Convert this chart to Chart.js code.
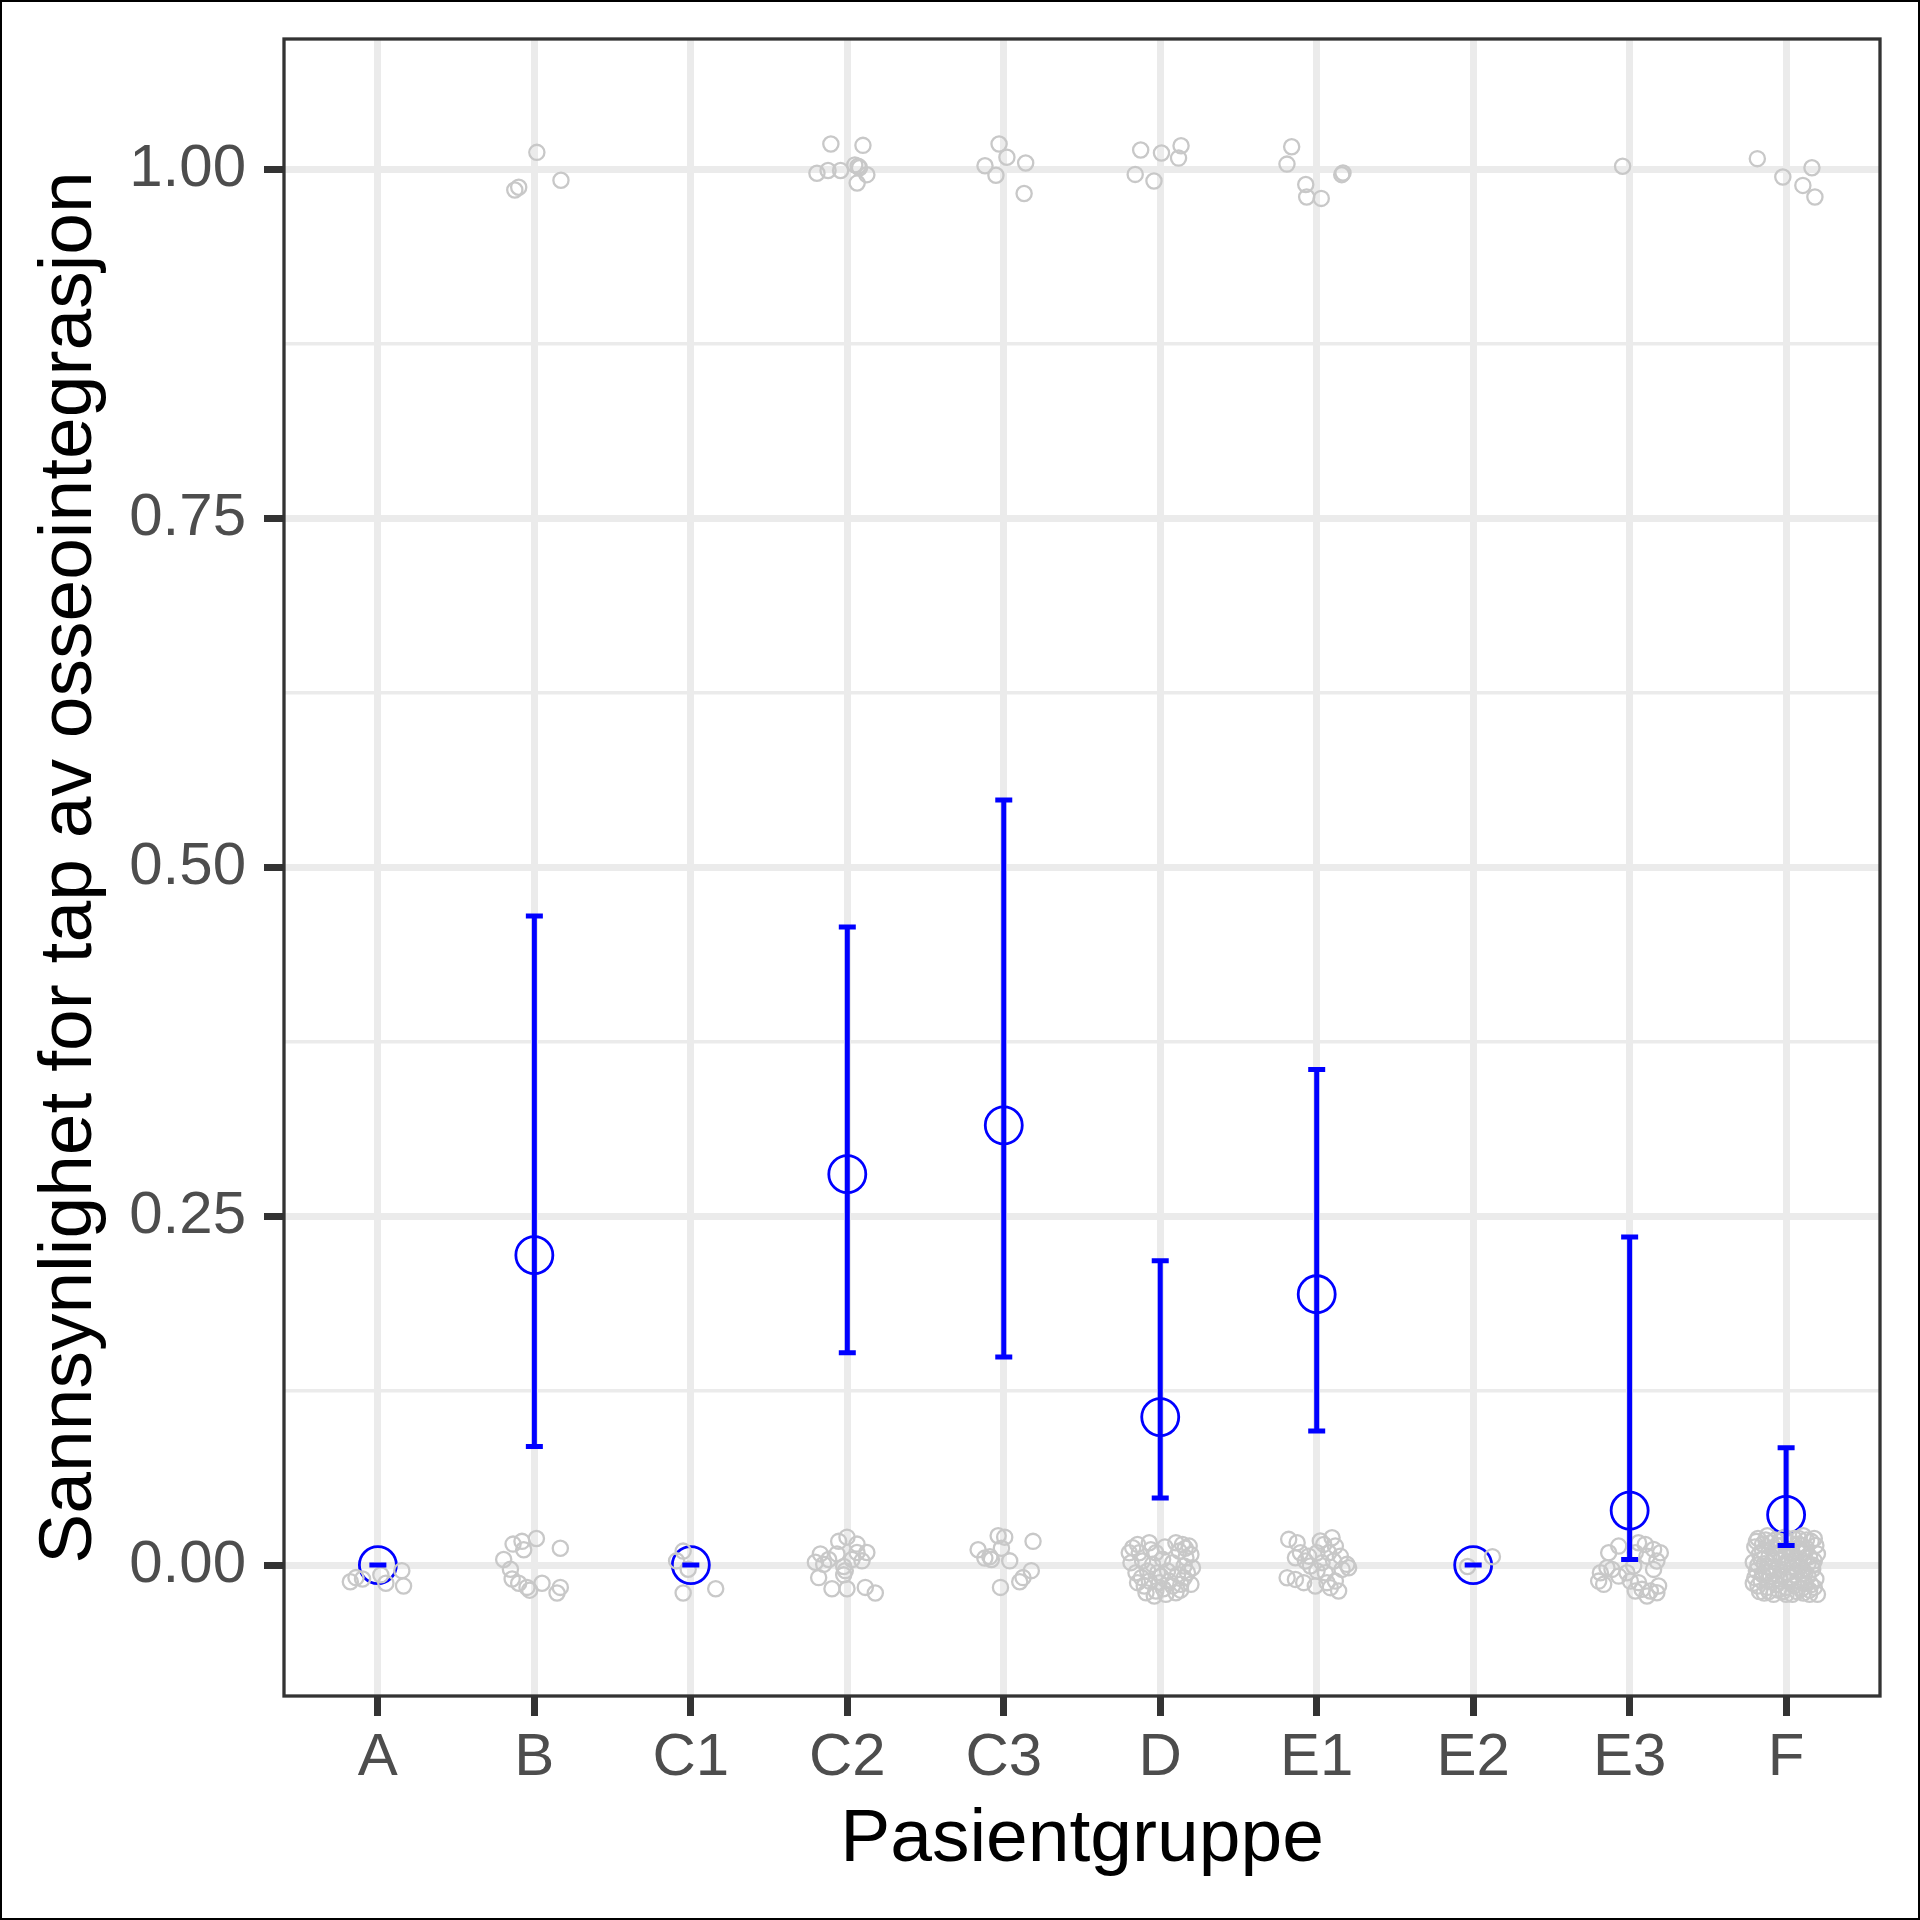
<!DOCTYPE html>
<html><head><meta charset="utf-8">
<script src="https://cdn.jsdelivr.net/npm/chart.js@4/dist/chart.umd.min.js"></script>
<style>html,body{margin:0;padding:0;background:#fff;} canvas{display:block;}</style>
</head><body>
<canvas id="c" width="1920" height="1920"></canvas>
<script>
const categories = ['A','B','C1','C2','C3','D','E1','E2','E3','F'];
const means  = [0, 0.222, 0, 0.280, 0.315, 0.106, 0.194, 0, 0.039, 0.036];
const ciLow  = [0, 0.085, 0, 0.152, 0.149, 0.048, 0.096, 0, 0.004, 0.014];
const ciHigh = [0, 0.465, 0, 0.457, 0.548, 0.218, 0.355, 0, 0.235, 0.084];
const yMajorTicks = [0, 0.25, 0.5, 0.75, 1];
const yMinorTicks = [0.125, 0.375, 0.625, 0.875];
const xTitle = 'Pasientgruppe';
const yTitle = 'Sannsynlighet for tap av osseointegrasjon';

// observations per group: [horizontal jitter (category units), jittered outcome]
const obsA = [[-0.176,-0.012],[-0.14,-0.009],[-0.098,-0.010],[0.051,-0.013],[0.153,-0.004],[0.164,-0.015],[0.019,-0.007]];
const obsB = [[-0.125,0.985],[-0.10,0.987],[0.016,1.012],[0.17,0.992],
  [-0.136,0.015],[-0.079,0.017],[-0.068,0.011],[0.013,0.019],[0.166,0.012],[-0.196,0.004],[-0.153,-0.003],[-0.142,-0.010],
  [-0.1,-0.013],[-0.047,-0.016],[-0.03,-0.018],[0.049,-0.013],[0.145,-0.020],[0.166,-0.016]];
const obsC1 = [[-0.049,0.010],[-0.091,0.003],[-0.017,-0.003],[-0.049,-0.020],[0.159,-0.017]];
const obsC2 = [[-0.105,1.018],[0.10,1.017],[-0.194,0.997],[-0.123,0.999],[-0.043,0.999],[0.048,1.003],[0.069,1.002],[0.125,0.996],[0.063,0.990],[0.078,1.001],
  [-0.002,0.020],[-0.055,0.017],[0.062,0.015],[-0.172,0.008],[-0.204,0.002],[-0.119,0.004],[-0.066,0.008],[0.062,0.009],[0.125,0.009],[0.03,0.004],
  [-0.023,-0.001],[-0.013,-0.004],[0.094,0.003],[-0.183,-0.009],[-0.098,-0.017],[-0.002,-0.017],[0.115,-0.016],[0.179,-0.020],[-0.151,0.0005],[-0.023,-0.007]];
const obsC3 = [[-0.03,1.018],[0.02,1.0085],[0.14,1.0044],[-0.12,1.0024],[-0.05,0.9956],[0.13,0.9825],
  [-0.036,0.021],[0.006,0.020],[-0.015,0.012],[-0.164,0.011],[-0.121,0.005],[-0.079,0.004],[0.038,0.003],[0.187,0.017],
  [0.123,-0.009],[0.102,-0.012],[0.176,-0.004],[-0.021,-0.016],[-0.089,0.006]];
const obsD = [[-0.125,1.0137],[0.008,1.0115],[0.133,1.0167],[0.117,1.0079],[-0.16,0.9962],[-0.04,0.9915],
  [-0.176,0.0124],[-0.145,0.0148],[-0.070,0.016],[-0.198,0.0088],[-0.134,0.0088],[-0.028,0.0088],[0.100,0.016],[0.142,0.0148],
  [0.185,0.0136],[0.121,0.010],[0.196,0.0076],[0.164,0.0052],[-0.187,0.0017],[-0.113,0.0029],[-0.049,0.0005],[0.015,0.0041],
  [0.079,0.0017],[0.153,-0.0007],[0.206,-0.0019],[-0.155,-0.0055],[-0.081,-0.0043],[-0.017,-0.0055],[0.047,-0.0043],[0.111,-0.0067],
  [0.174,-0.0055],[-0.145,-0.0126],[-0.070,-0.0115],[-0.006,-0.0126],[0.057,-0.0115],[0.132,-0.0138],[0.196,-0.0138],[-0.091,-0.0198],
  [-0.028,-0.0186],[0.036,-0.021],[0.100,-0.0198],[0.004,-0.0079],[0.079,-0.015],[-0.102,-0.015],[0.153,-0.0091],[-0.038,-0.0222],
  [-0.06,0.011],[0.03,0.013],[0.16,0.012],[-0.12,-0.009],[0.02,-0.017],[0.13,-0.018]];
const obsE1 = [[-0.16,1.016],[-0.19,1.0036],[-0.07,0.989],[-0.064,0.980],[0.029,0.979],[0.168,0.9972],[0.16,0.996],
  [-0.179,0.0184],[-0.125,0.016],[0.023,0.0172],[0.098,0.0196],[0.045,0.0148],[0.119,0.0136],[-0.104,0.0088],[-0.136,0.0052],
  [-0.051,0.0064],[0.002,0.0088],[0.077,0.0088],[0.151,0.0064],[-0.040,-0.0007],[0.034,0.0017],[0.108,0.0029],[0.193,0.0005],
  [0.002,-0.0043],[0.204,-0.0019],[-0.189,-0.0091],[-0.136,-0.0103],[-0.083,-0.0126],[-0.009,-0.015],[0.066,-0.0126],[0.119,-0.0115],
  [0.140,-0.0186],[0.087,-0.0162],[0.055,-0.0055],[0.162,-0.0031],[-0.072,0.0029]];
const obsE2 = [[0.123,0.006],[-0.036,-0.001]];
const obsE3 = [[-0.045,1.002],
  [-0.134,0.0088],[-0.070,0.0136],[0.057,0.016],[0.100,0.0148],[0.153,0.0112],[0.196,0.0088],[0.036,0.0088],[0.111,0.0064],
  [0.174,0.0029],[0.153,-0.0031],[0.026,-0.0007],[-0.145,-0.0019],[-0.187,-0.0055],[-0.198,-0.0115],[-0.166,-0.0138],[-0.070,-0.0079],
  [0.004,-0.0115],[0.057,-0.0126],[0.079,-0.0174],[0.132,-0.0186],[0.185,-0.015],[0.111,-0.0222],[0.174,-0.0198],[0.036,-0.0186],
  [-0.017,-0.0055],[-0.113,-0.0031]];
const obsF = [[-0.184,1.0075],[-0.021,0.9943],[0.165,1.001],[0.107,0.9883],[0.184,0.980],
  [-0.18,0.019],[-0.12,0.021],[-0.07,0.018],[-0.01,0.020],[0.05,0.019],[0.11,0.021],[0.16,0.017],
  [-0.2,0.013],[-0.15,0.015],[-0.09,0.012],[-0.03,0.014],[0.02,0.011],[0.08,0.015],[0.13,0.012],[0.19,0.014],
  [-0.17,0.008],[-0.11,0.006],[-0.05,0.009],[0.0,0.007],[0.06,0.005],[0.1,0.009],[0.15,0.006],[0.2,0.008],
  [-0.21,0.002],[-0.14,0.001],[-0.08,0.003],[-0.02,0.0],[0.04,0.002],[0.09,-0.001],[0.14,0.001],[0.18,0.003],
  [-0.19,-0.004],[-0.13,-0.005],[-0.06,-0.003],[0.01,-0.006],[0.07,-0.004],[0.12,-0.006],[0.17,-0.003],
  [-0.2,-0.009],[-0.16,-0.011],[-0.1,-0.008],[-0.04,-0.010],[0.03,-0.009],[0.08,-0.011],[0.14,-0.008],[0.19,-0.01],
  [-0.18,-0.015],[-0.12,-0.016],[-0.06,-0.014],[0.0,-0.016],[0.05,-0.015],[0.1,-0.017],[0.16,-0.014],
  [-0.14,-0.02],[-0.08,-0.021],[-0.02,-0.019],[0.04,-0.021],[0.11,-0.02],[0.2,-0.021],
  [-0.16,0.004],[-0.03,0.005],[0.11,0.003],[-0.09,-0.002],[0.05,-0.001],[-0.13,0.018],[0.02,0.016],[0.15,-0.018],
  [-0.1,0.016],[0.07,0.012],[-0.05,-0.018],[0.13,0.018],
  [-0.19,0.017],[-0.04,0.017],[0.08,0.019],[0.18,0.019],[-0.15,0.010],[-0.07,0.007],[0.03,0.008],[0.12,0.009],
  [-0.18,0.0],[-0.11,-0.001],[0.0,0.002],[0.07,0.001],[0.17,0.0],[-0.15,-0.007],[-0.08,-0.006],[0.05,-0.007],
  [0.1,-0.004],[-0.21,-0.013],[-0.09,-0.012],[0.02,-0.012],[0.12,-0.013],[0.18,-0.016],[-0.17,-0.019],[-0.11,-0.019],
  [0.0,-0.021],[0.07,-0.019],[0.15,-0.021],[-0.06,0.014],[0.1,0.014],[-0.02,-0.008]];
const obsByGroup = [obsA, obsB, obsC1, obsC2, obsC3, obsD, obsE1, obsE2, obsE3, obsF];

const FONT = "'Liberation Sans', Arial, Helvetica, sans-serif";
Chart.defaults.font.family = FONT;
const isMajor = v => yMajorTicks.some(t => Math.abs(t - v) < 1e-9);

const jitterData = obsByGroup.flatMap((arr, i) => arr.map(([dx, y]) => ({x: i + dx, y})));
const meanData = categories.map((c, i) => ({x: i, y: means[i]}));

const deco = {
  id: 'deco',
  afterDatasetDraw(chart, args) {
    if (args.index !== 0) return;
    const {ctx, scales: {x, y}} = chart;
    ctx.save();
    ctx.strokeStyle = '#0000FF';
    ctx.lineWidth = 5;
    ctx.lineCap = 'butt';
    categories.forEach((c, i) => {
      const px = x.getPixelForValue(i);
      const lo = y.getPixelForValue(ciLow[i]);
      const hi = y.getPixelForValue(ciHigh[i]);
      ctx.beginPath();
      ctx.moveTo(px, lo); ctx.lineTo(px, hi);
      ctx.moveTo(px - 8.5, lo); ctx.lineTo(px + 8.5, lo);
      ctx.moveTo(px - 8.5, hi); ctx.lineTo(px + 8.5, hi);
      ctx.stroke();
    });
    ctx.restore();
  },
  afterDraw(chart) {
    const {ctx, chartArea: a} = chart;
    ctx.save();
    ctx.strokeStyle = '#333333';
    ctx.lineWidth = 3.3;
    ctx.strokeRect(a.left, a.top, a.right - a.left, a.bottom - a.top);
    ctx.strokeStyle = '#000000';
    ctx.lineWidth = 2;
    ctx.strokeRect(1, 1, chart.width - 2, chart.height - 2);
    ctx.restore();
  }
};

new Chart(document.getElementById('c'), {
  type: 'scatter',
  data: {
    datasets: [
      {data: jitterData, pointRadius: 7.6, borderWidth: 2.3, borderColor: '#C8C8C8',
       backgroundColor: 'rgba(0,0,0,0)', pointHoverRadius: 7.6},
      {data: meanData, pointRadius: 18.5, borderWidth: 2.8, borderColor: '#0000FF',
       backgroundColor: 'rgba(0,0,0,0)', pointHoverRadius: 18.5}
    ]
  },
  options: {
    responsive: false,
    animation: false,
    devicePixelRatio: 1,
    events: [],
    layout: {padding: {left: 0, right: 40, top: 39, bottom: 0}},
    plugins: {legend: {display: false}, tooltip: {enabled: false}},
    scales: {
      x: {
        type: 'linear', min: -0.6, max: 9.6,
        afterBuildTicks: s => { s.ticks = categories.map((c, i) => ({value: i})); },
        afterFit: s => { s.height = 224; s.paddingLeft = 0; s.paddingRight = 0; },
        ticks: {autoSkip: false, maxRotation: 0, minRotation: 0, padding: 6,
                font: {size: 60}, color: '#4D4D4D',
                callback: v => categories[Math.round(v)] ?? ''},
        grid: {color: '#EBEBEB', lineWidth: 7, drawTicks: true, tickLength: 20, tickWidth: 7, tickColor: '#333333'},
        border: {display: false},
        title: {display: true, text: xTitle, color: '#000000', font: {size: 75}, padding: {top: 0, bottom: 35}}
      },
      y: {
        type: 'linear', min: -0.0938, max: 1.0932,
        afterBuildTicks: s => { s.ticks = [...yMajorTicks, ...yMinorTicks].sort((a, b) => a - b).map(v => ({value: v})); },
        afterFit: s => { s.width = 284; s.paddingTop = 0; s.paddingBottom = 0; },
        ticks: {autoSkip: false, padding: 18, font: {size: 60}, color: '#4D4D4D',
                callback: v => isMajor(v) ? v.toFixed(2) : ''},
        grid: {
          color: '#EBEBEB',
          lineWidth: c => (c.tick && isMajor(c.tick.value)) ? 7 : 3.5,
          drawTicks: true, tickLength: 20,
          tickWidth: c => (c.tick && isMajor(c.tick.value)) ? 7 : 1,
          tickColor: c => (c.tick && isMajor(c.tick.value)) ? '#333333' : 'rgba(0,0,0,0)'
        },
        border: {display: false},
        title: {display: true, text: yTitle, color: '#000000', font: {size: 75}, padding: {top: 25, bottom: 0}}
      }
    }
  },
  plugins: [deco]
});
</script>
</body></html>
